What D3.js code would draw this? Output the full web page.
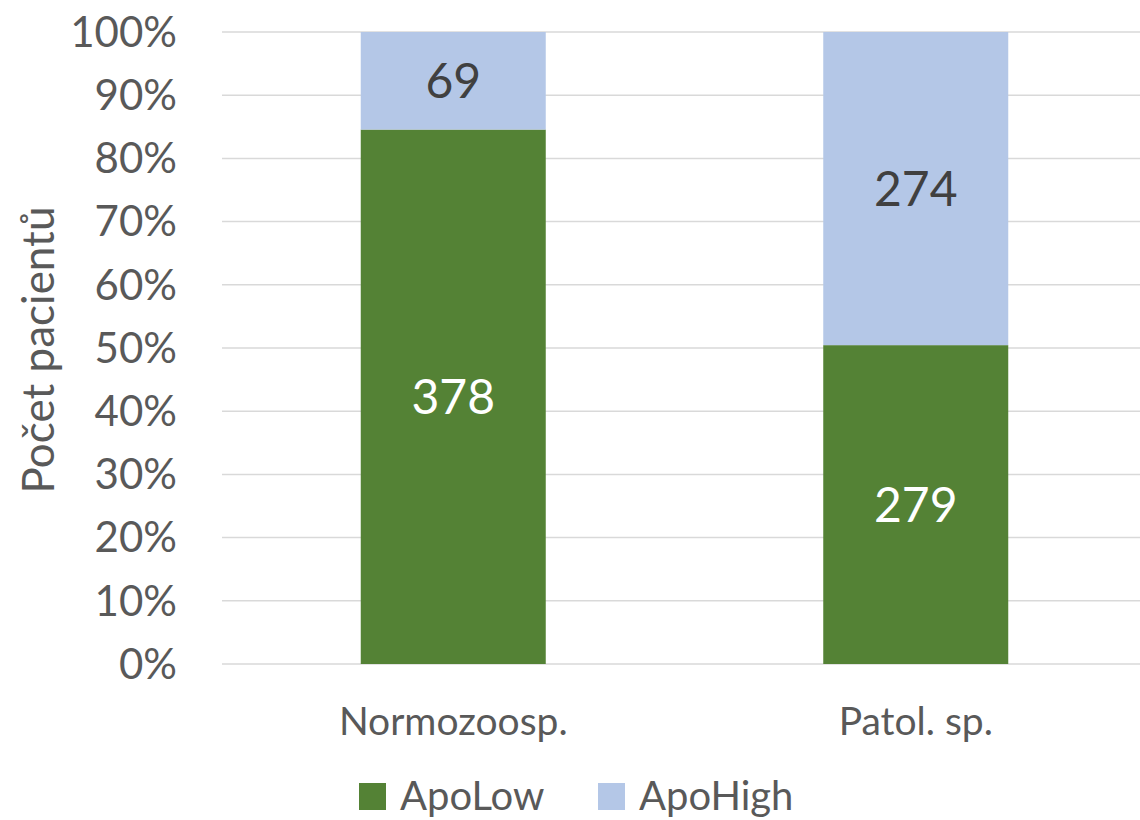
<!DOCTYPE html>
<html>
<head>
<meta charset="utf-8">
<script src="https://cdn.jsdelivr.net/npm/d3@7"></script>
<style>
  body { margin: 0; background: #fff; }
  svg text { font-family: Lato, "Open Sans", sans-serif; }
</style>
</head>
<body>
<svg id="vis" width="1140" height="820"></svg>
<script>
var categories = ["Normozoosp.", "Patol. sp."];
var seriesNames = ["ApoLow", "ApoHigh"];
var apoLow = [378, 279];
var apoHigh = [69, 274];
var yTicks = [0, 0.1, 0.2, 0.3, 0.4, 0.5, 0.6, 0.7, 0.8, 0.9, 1];

var colors = { ApoLow: "#548235", ApoHigh: "#b4c7e7" };
var labelColors = { ApoLow: "#ffffff", ApoHigh: "#404040" };

var svg = d3.select("#vis"),
    width = +svg.attr("width"),
    height = +svg.attr("height");

var margin = { top: 32, left: 222, right: -7, bottom: 156 };

// build table for d3.stack
var table = categories.map(function(c, i) {
  var total = apoLow[i] + apoHigh[i];
  return { cat: c, ApoLow: apoLow[i] / total, ApoHigh: apoHigh[i] / total,
           raw: { ApoLow: apoLow[i], ApoHigh: apoHigh[i] } };
});

var stack = d3.stack().keys(seriesNames);
var series = stack(table);

var x = d3.scaleBand()
    .domain(categories)
    .range([margin.left, width - margin.right])
    .paddingInner(0.6)
    .paddingOuter(0.3);

var y = d3.scaleLinear()
    .domain([0, 1])
    .range([height - margin.bottom, margin.top]);

// gridlines
svg.append("g")
    .attr("class", "grid")
  .selectAll("line")
  .data(yTicks)
  .enter().append("line")
    .attr("x1", margin.left)
    .attr("x2", width)
    .attr("y1", function(d) { return y(d); })
    .attr("y2", function(d) { return y(d); })
    .attr("stroke", "#d9d9d9")
    .attr("stroke-width", 1.5);

// y axis labels
var yAxis = d3.axisLeft(y)
    .tickValues(yTicks)
    .tickFormat(d3.format(".0%"))
    .tickSize(0)
    .tickPadding(0);

var yg = svg.append("g")
    .attr("transform", "translate(177,0)")
    .call(yAxis);
yg.select(".domain").remove();
yg.selectAll("text")
    .attr("fill", "#595959")
    .style("font-size", "42px")
    .attr("dy", "0.34em");

// bars
var groups = svg.append("g")
  .selectAll("g")
  .data(series)
  .enter().append("g")
    .attr("fill", function(d) { return colors[d.key]; });

groups.selectAll("rect")
  .data(function(d) { return d.map(function(p) { p.key = d.key; return p; }); })
  .enter().append("rect")
    .attr("x", function(d) { return x(d.data.cat); })
    .attr("width", x.bandwidth())
    .attr("y", function(d) { return y(d[1]); })
    .attr("height", function(d) { return y(d[0]) - y(d[1]); });

// data labels
groups.selectAll("text")
  .data(function(d) { return d; })
  .enter().append("text")
    .attr("x", function(d) { return x(d.data.cat) + x.bandwidth() / 2; })
    .attr("y", function(d) { return (y(d[0]) + y(d[1])) / 2; })
    .attr("dy", "0.36em")
    .attr("text-anchor", "middle")
    .attr("fill", function(d) { return labelColors[d.key]; })
    .style("font-size", "48px")
    .text(function(d) { return d.data.raw[d.key]; });

// x axis labels
var xAxis = d3.axisBottom(x).tickSize(0).tickPadding(0);
var xg = svg.append("g")
    .attr("transform", "translate(0," + (height - margin.bottom) + ")")
    .call(xAxis);
xg.select(".domain").remove();
xg.selectAll("text")
    .attr("fill", "#595959")
    .attr("y", 57)
    .attr("dy", "0.36em")
    .style("font-size", "39px");

// y axis title
svg.append("text")
    .attr("transform", "translate(38,350) rotate(-90)")
    .attr("text-anchor", "middle")
    .attr("dy", "0.36em")
    .attr("fill", "#595959")
    .style("font-size", "44px")
    .text("Počet pacientů");

// legend
var legendX = [359, 598];
var legend = svg.append("g")
  .selectAll("g")
  .data(seriesNames)
  .enter().append("g")
    .attr("transform", function(d, i) { return "translate(" + legendX[i] + ",783)"; });

legend.append("rect")
    .attr("width", 27)
    .attr("height", 27)
    .attr("fill", function(d) { return colors[d]; });

legend.append("text")
    .attr("x", 41)
    .attr("y", 13)
    .attr("dy", "0.36em")
    .attr("fill", "#595959")
    .style("font-size", "40px")
    .text(function(d) { return d; });
</script>
</body>
</html>
